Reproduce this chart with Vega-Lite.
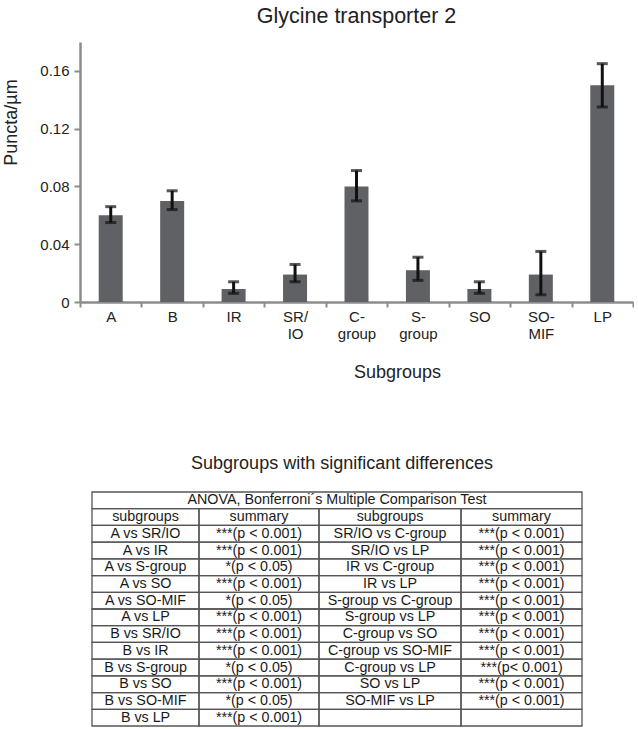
{
  "$schema": "https://vega.github.io/schema/vega-lite/v6.json",
  "padding": {"left": 2, "top": 5, "right": 0, "bottom": 0},
  "config": {"view": {"stroke": null}, "font": "Liberation Sans"},
  "spacing": 74,
  "vconcat": [
    {
      "title": {"text": "Glycine transporter 2", "fontSize": 21.5, "fontWeight": "normal", "color": "#222222", "offset": 15, "anchor": "middle", "frame": "group"},
      "width": 553,
      "height": 260,
      "data": {"values": [
        {"group": "A", "mean": 0.060, "lo": 0.055, "hi": 0.066},
        {"group": "B", "mean": 0.070, "lo": 0.064, "hi": 0.077},
        {"group": "IR", "mean": 0.009, "lo": 0.006, "hi": 0.014},
        {"group": "SR/IO", "mean": 0.019, "lo": 0.014, "hi": 0.026},
        {"group": "C-group", "mean": 0.080, "lo": 0.070, "hi": 0.091},
        {"group": "S-group", "mean": 0.022, "lo": 0.015, "hi": 0.031},
        {"group": "SO", "mean": 0.009, "lo": 0.006, "hi": 0.014},
        {"group": "SO-MIF", "mean": 0.019, "lo": 0.005, "hi": 0.035},
        {"group": "LP", "mean": 0.150, "lo": 0.135, "hi": 0.165}
      ]},
      "encoding": {
        "x": {
          "field": "group", "type": "nominal", "sort": null,
          "scale": {"paddingInner": 0, "paddingOuter": 0},
          "axis": {
            "title": "Subgroups", "labelAngle": 0, "tickBand": "extent",
            "labelExpr": "datum.label == 'SR/IO' ? ['SR/', 'IO'] : datum.label == 'C-group' ? ['C-', 'group'] : datum.label == 'S-group' ? ['S-', 'group'] : datum.label == 'SO-MIF' ? ['SO-', 'MIF'] : datum.label",
            "labelFontSize": 15, "labelLineHeight": 17, "labelPadding": 2, "labelColor": "#222222",
            "tickSize": 5, "tickWidth": 2, "tickColor": "#8c8c8c",
            "domainColor": "#8c8c8c", "domainWidth": 2.5,
            "titleFontSize": 18, "titleFontWeight": "normal", "titleColor": "#222222", "titlePadding": 22, "titleX": 317
          }
        }
      },
      "layer": [
        {
          "mark": {"type": "bar", "color": "#5f6164", "size": 24},
          "encoding": {
            "y": {
              "field": "mean", "type": "quantitative", "title": "Puncta/µm",
              "scale": {"domain": [0, 0.18], "nice": false},
              "axis": {
                "values": [0, 0.02, 0.04, 0.06, 0.08, 0.1, 0.12, 0.14, 0.16, 0.18],
                "labelExpr": "datum.value == 0 ? '0' : (round(datum.value * 100) % 4 == 0 ? format(datum.value, '.2f') : '')",
                "grid": false,
                "labelFontSize": 15, "labelColor": "#222222", "labelPadding": 5,
                "tickSize": 6, "tickWidth": 2, "tickColor": "#8c8c8c",
                "domainColor": "#8c8c8c", "domainWidth": 2.5,
                "titleFontSize": 18, "titleFontWeight": "normal", "titleColor": "#222222",
                "titleX": -64, "titleY": 80, "titleBaseline": "alphabetic"
              }
            }
          }
        },
        {
          "mark": {"type": "rule", "color": "#111111", "strokeWidth": 3},
          "encoding": {
            "y": {"field": "lo", "type": "quantitative", "title": "Puncta/µm"},
            "y2": {"field": "hi"}
          }
        },
        {
          "mark": {"type": "tick", "color": "#111111", "thickness": 3, "size": 11},
          "encoding": {"y": {"field": "lo", "type": "quantitative", "title": "Puncta/µm"}}
        },
        {
          "mark": {"type": "tick", "color": "#111111", "thickness": 3, "size": 11},
          "encoding": {"y": {"field": "hi", "type": "quantitative", "title": "Puncta/µm"}}
        }
      ]
    },
    {
      "title": {"text": "Subgroups with significant differences", "fontSize": 18, "fontWeight": "normal", "color": "#222222", "offset": 18, "anchor": "middle", "frame": "group", "dx": 5},
      "width": 514,
      "height": 234,
      "data": {"values": [
        {"r": 0, "c": 0, "c2": 4, "t": "ANOVA, Bonferroni´s Multiple Comparison Test"},
        {"r": 1, "c": 0, "c2": 1, "t": "subgroups"},
        {"r": 1, "c": 1, "c2": 2, "t": "summary"},
        {"r": 1, "c": 2, "c2": 3, "t": "subgroups"},
        {"r": 1, "c": 3, "c2": 4, "t": "summary"},
        {"r": 2, "c": 0, "c2": 1, "t": "A vs SR/IO"},
        {"r": 2, "c": 1, "c2": 2, "t": "***(p < 0.001)"},
        {"r": 2, "c": 2, "c2": 3, "t": "SR/IO vs C-group"},
        {"r": 2, "c": 3, "c2": 4, "t": "***(p < 0.001)"},
        {"r": 3, "c": 0, "c2": 1, "t": "A vs IR"},
        {"r": 3, "c": 1, "c2": 2, "t": "***(p < 0.001)"},
        {"r": 3, "c": 2, "c2": 3, "t": "SR/IO vs LP"},
        {"r": 3, "c": 3, "c2": 4, "t": "***(p < 0.001)"},
        {"r": 4, "c": 0, "c2": 1, "t": "A vs S-group"},
        {"r": 4, "c": 1, "c2": 2, "t": "*(p < 0.05)"},
        {"r": 4, "c": 2, "c2": 3, "t": "IR vs C-group"},
        {"r": 4, "c": 3, "c2": 4, "t": "***(p < 0.001)"},
        {"r": 5, "c": 0, "c2": 1, "t": "A vs SO"},
        {"r": 5, "c": 1, "c2": 2, "t": "***(p < 0.001)"},
        {"r": 5, "c": 2, "c2": 3, "t": "IR vs LP"},
        {"r": 5, "c": 3, "c2": 4, "t": "***(p < 0.001)"},
        {"r": 6, "c": 0, "c2": 1, "t": "A vs SO-MIF"},
        {"r": 6, "c": 1, "c2": 2, "t": "*(p < 0.05)"},
        {"r": 6, "c": 2, "c2": 3, "t": "S-group vs C-group"},
        {"r": 6, "c": 3, "c2": 4, "t": "***(p < 0.001)"},
        {"r": 7, "c": 0, "c2": 1, "t": "A vs LP"},
        {"r": 7, "c": 1, "c2": 2, "t": "***(p < 0.001)"},
        {"r": 7, "c": 2, "c2": 3, "t": "S-group vs LP"},
        {"r": 7, "c": 3, "c2": 4, "t": "***(p < 0.001)"},
        {"r": 8, "c": 0, "c2": 1, "t": "B vs SR/IO"},
        {"r": 8, "c": 1, "c2": 2, "t": "***(p < 0.001)"},
        {"r": 8, "c": 2, "c2": 3, "t": "C-group vs SO"},
        {"r": 8, "c": 3, "c2": 4, "t": "***(p < 0.001)"},
        {"r": 9, "c": 0, "c2": 1, "t": "B vs IR"},
        {"r": 9, "c": 1, "c2": 2, "t": "***(p < 0.001)"},
        {"r": 9, "c": 2, "c2": 3, "t": "C-group vs SO-MIF"},
        {"r": 9, "c": 3, "c2": 4, "t": "***(p < 0.001)"},
        {"r": 10, "c": 0, "c2": 1, "t": "B vs S-group"},
        {"r": 10, "c": 1, "c2": 2, "t": "*(p < 0.05)"},
        {"r": 10, "c": 2, "c2": 3, "t": "C-group vs LP"},
        {"r": 10, "c": 3, "c2": 4, "t": "***(p< 0.001)"},
        {"r": 11, "c": 0, "c2": 1, "t": "B vs SO"},
        {"r": 11, "c": 1, "c2": 2, "t": "***(p < 0.001)"},
        {"r": 11, "c": 2, "c2": 3, "t": "SO vs LP"},
        {"r": 11, "c": 3, "c2": 4, "t": "***(p < 0.001)"},
        {"r": 12, "c": 0, "c2": 1, "t": "B vs SO-MIF"},
        {"r": 12, "c": 1, "c2": 2, "t": "*(p < 0.05)"},
        {"r": 12, "c": 2, "c2": 3, "t": "SO-MIF vs LP"},
        {"r": 12, "c": 3, "c2": 4, "t": "***(p < 0.001)"},
        {"r": 13, "c": 0, "c2": 1, "t": "B vs LP"},
        {"r": 13, "c": 1, "c2": 2, "t": "***(p < 0.001)"},
        {"r": 13, "c": 2, "c2": 3, "t": ""},
        {"r": 13, "c": 3, "c2": 4, "t": ""}
      ]},
      "encoding": {
        "y": {"field": "r", "type": "ordinal", "scale": {"paddingInner": 0, "paddingOuter": 0}, "axis": null}
      },
      "resolve": {"scale": {"x": "independent"}},
      "layer": [
        {
          "mark": {"type": "rect", "filled": false, "stroke": "#555555", "strokeWidth": 1.3},
          "encoding": {
            "x": {
              "field": "c", "type": "quantitative",
              "scale": {"domain": [0, 1, 2, 3, 4], "range": [12, 119, 239, 381, 502], "nice": false, "zero": false},
              "axis": null
            },
            "x2": {"field": "c2"}
          }
        },
        {
          "transform": [{"filter": "datum.r >= 1"}],
          "mark": {"type": "text", "fontSize": 14.3, "color": "#1a1a1a", "baseline": "middle"},
          "encoding": {
            "x": {
              "field": "c", "type": "quantitative",
              "scale": {"domain": [0, 1, 2, 3], "range": [65.5, 179, 310, 441.5], "nice": false, "zero": false},
              "axis": null
            },
            "text": {"field": "t", "type": "nominal"}
          }
        },
        {
          "transform": [{"filter": "datum.r == 0"}],
          "mark": {"type": "text", "fontSize": 14.3, "color": "#1a1a1a", "baseline": "middle"},
          "encoding": {
            "text": {"field": "t", "type": "nominal"}
          }
        }
      ]
    }
  ]
}
